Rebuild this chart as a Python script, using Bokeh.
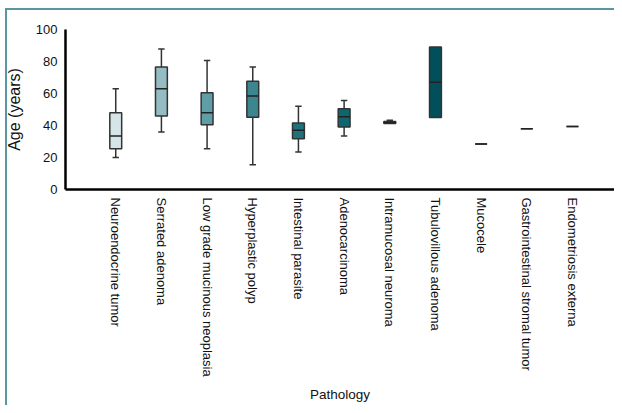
from bokeh.plotting import figure
from bokeh.models import Range1d, FixedTicker
from bokeh.embed import file_html
from bokeh.resources import INLINE

categories = ["Neuroendocrine tumor", "Serrated adenoma", "Low grade mucinous neoplasia",
              "Hyperplastic polyp", "Intestinal parasite", "Adenocarcinoma",
              "Intramucosal neuroma", "Tubulovillous adenoma", "Mucocele",
              "Gastrointestinal stromal tumor", "Endometriosis externa"]
lower = [20, 36, 25.5, 15.5, 23.5, 33.5, 41.3, 45, 28.5, 37.9, 39.3]
q1 = [25.5, 46, 40.5, 45.2, 31.7, 39, 41.3, 45, 28.5, 37.9, 39.3]
median = [33.5, 63, 48, 58.5, 37, 45.5, 41.8, 67, 28.5, 37.9, 39.3]
q3 = [48, 76.5, 60.5, 67.7, 41.5, 50.5, 42.5, 89, 28.5, 37.9, 39.3]
upper = [63, 87.8, 80.7, 76.5, 52, 55.6, 43.3, 89, 28.5, 37.9, 39.3]
colors = ["#d5e5e8", "#94bcc2", "#5f9ea6", "#3b868f", "#1f717b", "#0d6670",
          "#0a5560", "#014f5a", "#014f5a", "#014f5a", "#014f5a"]
y_ticks = [0, 20, 40, 60, 80, 100]

xs = list(range(len(categories)))
BOX_W = 0.26
CAP = 0.07
LINE = "#333333"
FONT = "Liberation Sans"
BORDER = "#5a98a0"

p = figure(width=614, height=405, output_backend="svg", toolbar_location=None,
           x_range=Range1d(-1.1, 10.92), y_range=Range1d(0, 100),
           min_border_left=65, min_border_right=0, min_border_top=29, min_border_bottom=216)
p.outline_line_color = None
p.grid.visible = False
p.background_fill_color = "white"
p.border_fill_alpha = 0
# thin page frame (top and left edges) painted behind the transparent canvas border
p.styles = {
    "background": (f"linear-gradient({BORDER},{BORDER}) 5px 8px / 2px 397px no-repeat, "
                   f"linear-gradient({BORDER},{BORDER}) 5px 8px / 609px 2px no-repeat, white")
}

# whiskers
p.segment(x0=xs, x1=xs, y0=q3, y1=upper, line_color=LINE, line_width=1.5)
p.segment(x0=xs, x1=xs, y0=lower, y1=q1, line_color=LINE, line_width=1.5)
cap_x = [x for x, u, t in zip(xs, upper, q3) if u > t]
cap_y = [u for u, t in zip(upper, q3) if u > t]
p.segment(x0=[x - CAP for x in cap_x], x1=[x + CAP for x in cap_x], y0=cap_y, y1=cap_y,
          line_color=LINE, line_width=1.5)
lcap_x = [x for x, l, b in zip(xs, lower, q1) if l < b]
lcap_y = [l for l, b in zip(lower, q1) if l < b]
p.segment(x0=[x - CAP for x in lcap_x], x1=[x + CAP for x in lcap_x], y0=lcap_y, y1=lcap_y,
          line_color=LINE, line_width=1.5)

# boxes
p.vbar(x=xs, width=BOX_W, bottom=q1, top=q3, fill_color=colors, line_color=LINE,
       line_width=1.5)
# medians
p.segment(x0=[x - BOX_W / 2 for x in xs], x1=[x + BOX_W / 2 for x in xs], y0=median,
          y1=median, line_color="#222222", line_width=1.5)

p.xaxis.ticker = FixedTicker(ticks=xs)
p.xaxis.major_label_overrides = {x: c for x, c in zip(xs, categories)}
p.xaxis.major_label_orientation = -1.5708
p.yaxis.ticker = FixedTicker(ticks=y_ticks)
p.xaxis.axis_label = "Pathology"
p.yaxis.axis_label = "Age (years)"
for ax in (p.xaxis, p.yaxis):
    ax.axis_line_width = 2.5
    ax.axis_line_color = "black"
    ax.major_tick_line_color = None
    ax.minor_tick_line_color = None
    ax.major_tick_out = 0
    ax.major_tick_in = 0
    ax.minor_tick_out = 0
    ax.minor_tick_in = 0
    ax.major_label_text_font = FONT
    ax.major_label_text_font_size = "13px"
    ax.major_label_text_color = "#111111"
    ax.axis_label_text_font = FONT
    ax.axis_label_text_font_style = "normal"
    ax.axis_label_text_color = "#111111"
p.xaxis.major_label_standoff = 8
p.yaxis.major_label_standoff = 8
p.xaxis.axis_label_standoff = 7
p.yaxis.axis_label_standoff = 10
p.xaxis.axis_label_text_font_size = "13.5px"
p.yaxis.axis_label_text_font_size = "16px"

open("out.html", "w").write(file_html(p, INLINE))
